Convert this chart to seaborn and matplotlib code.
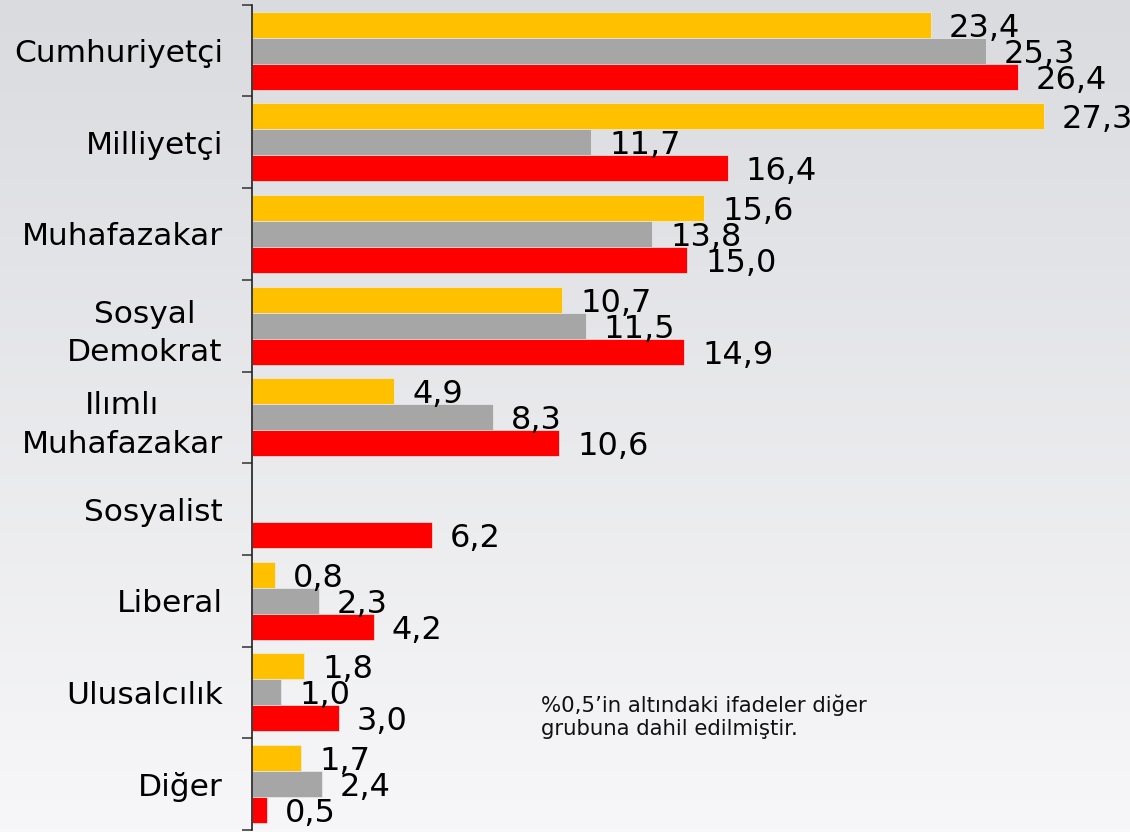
import numpy as np
import pandas as pd
import matplotlib
matplotlib.use("Agg")
import matplotlib.pyplot as plt
import seaborn as sns

# kategoriler ve seriler
categories = ["Cumhuriyetçi", "Milliyetçi", "Muhafazakar", "Sosyal\nDemokrat",
              "Ilımlı\nMuhafazakar", "Sosyalist", "Liberal", "Ulusalcılık", "Diğer"]
series_names = ["Seri 1", "Seri 2", "Seri 3"]
seri1 = [23.4, 27.3, 15.6, 10.7, 4.9, np.nan, 0.8, 1.8, 1.7]
seri2 = [25.3, 11.7, 13.8, 11.5, 8.3, np.nan, 2.3, 1.0, 2.4]
seri3 = [26.4, 16.4, 15.0, 14.9, 10.6, 6.2, 4.2, 3.0, 0.5]
colors = ["#FFC000", "#A6A6A6", "#FF0000"]
note = "%0,5’in altındaki ifadeler diğer\ngrubuna dahil edilmiştir."

rows = []
for name, vals in zip(series_names, [seri1, seri2, seri3]):
    for cat, v in zip(categories, vals):
        rows.append({"kategori": cat, "seri": name, "deger": v})
df = pd.DataFrame(rows).dropna()

sns.set_theme(style="white")
plt.rcParams["font.family"] = ["DejaVu Sans"]
plt.rcParams["text.color"] = "black"
plt.rcParams["ytick.color"] = "black"

fig = plt.figure(figsize=(11.3, 8.32), dpi=100)

# arka plan gradyanı
bg = fig.add_axes([0, 0, 1, 1], zorder=-10)
grad = np.linspace(0, 1, 256).reshape(-1, 1)
top = np.array([218, 219, 223]) / 255
bottom = np.array([247, 247, 249]) / 255
img = top + (bottom - top) * grad[..., None]
img = np.repeat(img, 4, axis=1)
bg.imshow(img, aspect="auto", extent=[0, 1, 0, 1])
bg.axis("off")

ax = fig.add_axes([252 / 1130, 1 - 830 / 832, 1 - 252 / 1130, (830 - 4.7) / 832])
ax.set_facecolor("none")

sns.barplot(data=df, y="kategori", x="deger", hue="seri", order=categories,
            hue_order=series_names, palette=colors, saturation=1, orient="h",
            width=0.85, edgecolor="#ececec", linewidth=0.5, legend=False, ax=ax)

ax.set_xlim(0, (1130 - 252) / 29.0)
ax.set_ylim(len(categories) - 0.5, -0.5)
ax.set_xlabel("")
ax.set_ylabel("")
ax.set_xticks([])

for c in ax.containers:
    labels = ax.bar_label(c, fmt=lambda v: f"{v:.1f}".replace(".", ","), padding=13,
                          fontsize=23, color="black")
    for t in labels:
        t.set_y(t.get_position()[1])
        t.set_va("center_baseline")

# kategori sınırlarında tik, ortada etiket
ax.set_yticks(np.arange(-0.5, len(categories), 1.0))
ax.set_yticklabels([])
ax.set_yticks(np.arange(len(categories)), minor=True)
ax.set_yticklabels(categories, minor=True, fontsize=22.5, multialignment="center",
                   linespacing=1.4, color="black")
ax.tick_params(axis="y", which="major", length=7, width=1.2, color="#404040", left=True)
ax.tick_params(axis="y", which="minor", length=0, pad=21)

for s in ["top", "right", "bottom"]:
    ax.spines[s].set_visible(False)
ax.spines["left"].set_color("#202020")
ax.spines["left"].set_linewidth(1.2)

fig.text(541 / 1130, 1 - 695 / 832, note, fontsize=15.3, va="top", ha="left",
         linespacing=1.15, color="#111111")

fig.savefig("out.png", dpi=100)
